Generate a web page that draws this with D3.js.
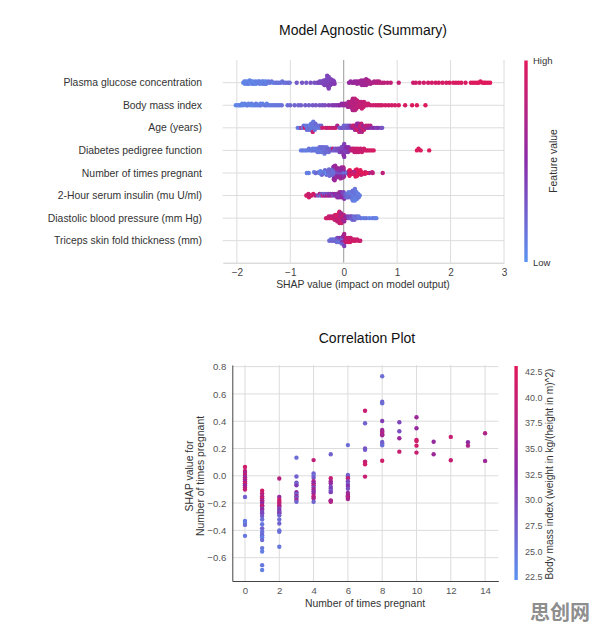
<!DOCTYPE html>
<html>
<head>
<meta charset="utf-8">
<script src="https://cdn.jsdelivr.net/npm/d3@7"></script>
<style>
body { margin: 0; background: #fff; }
svg text { font-family: "Liberation Sans", Arial, sans-serif; }
</style>
</head>
<body>
<div id="chart"></div>
<script>
// Feature names, top to bottom in the summary plot
const features = [
  "Plasma glucose concentration",
  "Body mass index",
  "Age (years)",
  "Diabetes pedigree function",
  "Number of times pregnant",
  "2-Hour serum insulin (mu U/ml)",
  "Diastolic blood pressure (mm Hg)",
  "Triceps skin fold thickness (mm)"
];

// [shap value, feature value 0..1]
const glucose = [
  [-1.88,.05],[-1.86,.08],[-1.85,.04],[-1.84,.10],[-1.83,.06],[-1.81,.03],[-1.80,.09],[-1.79,.05],[-1.78,.12],[-1.76,.07],
  [-1.75,.04],[-1.73,.10],[-1.72,.06],[-1.71,.08],[-1.70,.05],[-1.68,.11],[-1.66,.07],[-1.65,.09],[-1.64,.04],[-1.62,.12],
  [-1.60,.08],[-1.59,.06],[-1.58,.10],[-1.57,.13],[-1.55,.07],[-1.53,.09],[-1.52,.05],[-1.51,.12],[-1.50,.08],[-1.48,.10],
  [-1.47,.14],[-1.46,.06],[-1.45,.11],[-1.43,.09],[-1.41,.13],[-1.38,.12],[-1.35,.15],[-1.32,.11],[-1.28,.14],[-1.25,.16],
  [-1.22,.13],[-1.18,.17],[-1.15,.15],[-1.12,.18],[-1.08,.16],[-1.04,.20],[-1.01,.18],
  [-0.88,.27],[-0.78,.30],[-0.70,.28],[-0.62,.32],[-0.55,.30],[-0.50,.34],
  [-0.47,.36],[-0.45,.34],[-0.43,.38],[-0.42,.35],[-0.40,.37],[-0.39,.33],[-0.38,.39],[-0.37,.36],[-0.36,.40],[-0.35,.35],
  [-0.34,.38],[-0.33,.36],[-0.33,.41],[-0.32,.37],[-0.32,.34],[-0.31,.39],[-0.31,.36],[-0.30,.40],[-0.30,.35],[-0.30,.38],
  [-0.29,.37],[-0.29,.42],[-0.29,.36],[-0.28,.39],[-0.28,.35],[-0.28,.40],[-0.27,.37],[-0.27,.41],[-0.26,.38],[-0.26,.36],
  [-0.25,.40],[-0.24,.38],[-0.23,.42],[-0.22,.39],[-0.21,.41],[-0.20,.40],[-0.19,.43],[-0.18,.41],[-0.17,.44],[-0.31,.38],
  [0.10,.55],[0.13,.57],[0.16,.56],[0.18,.58],[0.20,.57],[0.22,.60],[0.24,.58],[0.25,.61],[0.27,.59],[0.28,.62],
  [0.30,.60],[0.31,.63],[0.32,.61],[0.33,.64],[0.34,.60],[0.35,.62],[0.36,.65],[0.37,.61],[0.38,.63],[0.38,.66],
  [0.39,.62],[0.40,.64],[0.40,.60],[0.41,.67],[0.42,.63],[0.42,.65],[0.43,.68],[0.44,.64],[0.45,.66],[0.46,.69],
  [0.47,.65],[0.48,.70],[0.50,.67],[0.52,.71],
  [0.55,.72],[0.57,.70],[0.60,.74],[0.62,.73],[0.64,.76],[0.66,.74],[0.68,.77],[0.72,.78],[0.76,.80],[0.82,.79],
  [0.88,.82],[1.03,.84],
  [1.30,.88],[1.35,.90],[1.42,.89],[1.50,.91],[1.58,.90],[1.65,.92],[1.72,.93],[1.78,.92],[1.85,.94],[1.92,.93],
  [1.98,.95],[2.05,.94],[2.10,.96],[2.15,.95],[2.20,.97],[2.28,.96],[2.38,.97],[2.42,.98],[2.46,.97],[2.50,.99],
  [2.53,.98],[2.56,.99],[2.60,.98],[2.63,1],[2.66,.99],[2.70,1],[2.74,.99]
];

const bmi = [
  [-2.02,.05],[-1.98,.08],[-1.95,.06],[-1.92,.10],[-1.90,.07],[-1.88,.05],[-1.85,.09],[-1.82,.06],[-1.80,.11],[-1.78,.08],
  [-1.74,.07],[-1.72,.10],[-1.70,.06],[-1.66,.09],[-1.64,.12],[-1.62,.08],[-1.58,.10],[-1.56,.07],[-1.55,.12],[-1.52,.09],
  [-1.48,.11],[-1.45,.13],[-1.44,.08],[-1.40,.12],[-1.36,.10],[-1.32,.14],[-1.28,.12],[-1.24,.15],[-1.20,.13],[-1.16,.16],
  [-1.05,.18],[-1.00,.20],[-0.92,.22],[-0.85,.21],[-0.80,.24],[-0.72,.26],[-0.65,.25],[-0.58,.28],[-0.52,.30],[-0.45,.29],
  [-0.40,.32],[-0.35,.34],[-0.28,.40],[-0.22,.42],[-0.18,.45],[-0.14,.44],[-0.10,.48],[-0.07,.50],[-0.04,.52],[-0.02,.55],
  [0.00,.55],[0.02,.60],[0.04,.62],[0.06,.64],[0.07,.66],[0.08,.63],[0.09,.68],[0.10,.65],[0.11,.70],[0.12,.67],
  [0.13,.72],[0.14,.69],[0.14,.74],[0.15,.71],[0.15,.76],[0.16,.73],[0.16,.78],[0.17,.70],[0.17,.75],[0.18,.72],
  [0.18,.80],[0.19,.74],[0.19,.77],[0.20,.79],[0.20,.73],[0.21,.76],[0.21,.81],[0.22,.75],[0.22,.78],[0.23,.80],
  [0.23,.74],[0.24,.77],[0.25,.82],[0.26,.76],[0.27,.79],[0.28,.83],[0.29,.78],[0.30,.81],[0.31,.84],[0.32,.80],
  [0.33,.82],[0.34,.85],[0.35,.81],[0.36,.83],[0.37,.86],[0.38,.82],[0.40,.84],[0.42,.87],[0.44,.85],[0.46,.88],
  [0.50,.86],[0.55,.89],[0.60,.88],[0.64,.90],[0.68,.89],[0.72,.91],[0.78,.92],[0.84,.90],[0.90,.93],[0.96,.92],
  [1.03,.94],[1.15,.95],[1.28,.96],[1.37,.97],[1.53,.98]
];

const age = [
  [-0.86,.12],[-0.82,.15],[-0.79,.85],[-0.77,.10],[-0.75,.18],[-0.73,.88],[-0.71,.14],[-0.69,.20],[-0.67,.11],[-0.66,.16],
  [-0.65,.13],[-0.64,.19],[-0.63,.10],[-0.62,.15],[-0.61,.12],[-0.60,.17],[-0.60,.14],[-0.59,.11],[-0.58,.16],[-0.58,.86],
  [-0.57,.13],[-0.56,.18],[-0.55,.12],[-0.54,.15],[-0.53,.20],[-0.52,.14],[-0.50,.17],[-0.48,.13],[-0.46,.19],[-0.44,.16],
  [-0.42,.22],[-0.40,.90],[-0.34,.88],[-0.30,.80],[-0.26,.92],[-0.22,.84],[-0.18,.78],[-0.15,.90],[-0.12,.70],
  [-0.08,.25],[-0.05,.22],[-0.03,.28],[0.00,.20],[0.02,.26],[0.04,.23],[0.06,.30],[0.08,.25],[0.10,.32],[0.12,.40],
  [0.15,.55],[0.17,.85],[0.19,.60],[0.20,.90],[0.21,.50],[0.22,.82],[0.23,.65],[0.24,.92],[0.25,.58],[0.26,.87],
  [0.27,.62],[0.28,.94],[0.28,.55],[0.29,.80],[0.30,.68],[0.31,.90],[0.32,.60],[0.33,.85],[0.34,.72],[0.35,.88],
  [0.36,.64],[0.38,.90],[0.40,.70],[0.42,.85],[0.44,.62],[0.46,.80],[0.48,.55],[0.50,.75],[0.53,.45],[0.57,.50],
  [0.61,.40],[0.65,.45],[0.70,.35],[0.72,.30]
];

const pedigree = [
  [-0.80,.10],[-0.76,.14],[-0.72,.08],[-0.68,.12],[-0.65,.15],[-0.62,.09],[-0.60,.13],[-0.58,.11],[-0.56,.16],[-0.54,.10],
  [-0.52,.14],[-0.50,.12],[-0.49,.17],[-0.48,.11],[-0.47,.15],[-0.46,.13],[-0.45,.18],[-0.44,.12],[-0.43,.16],[-0.42,.14],
  [-0.41,.19],[-0.40,.13],[-0.39,.17],[-0.38,.15],[-0.37,.20],[-0.36,.14],[-0.35,.18],[-0.34,.16],[-0.33,.21],[-0.32,.17],
  [-0.31,.19],[-0.30,.22],[-0.28,.18],[-0.26,.23],[-0.24,.20],[-0.22,.25],[-0.20,.82],[-0.18,.24],[-0.16,.28],
  [-0.14,.30],[-0.12,.33],[-0.10,.28],[-0.09,.36],[-0.08,.31],[-0.07,.38],[-0.06,.34],[-0.05,.40],[-0.04,.32],[-0.03,.42],
  [-0.02,.36],[-0.02,.45],[-0.01,.38],[0.00,.43],[0.00,.35],[0.00,.48],[0.01,.40],[0.01,.46],[0.02,.37],[0.03,.44],
  [0.04,.39],[0.05,.50],[0.06,.41],[0.07,.47],[0.08,.43],[0.09,.52],[0.10,.45],[0.12,.55],
  [0.14,.80],[0.16,.85],[0.18,.78],[0.19,.88],[0.20,.82],[0.22,.90],[0.23,.84],[0.24,.87],[0.26,.80],[0.27,.92],
  [0.28,.85],[0.30,.88],[0.32,.83],[0.34,.90],[0.36,.86],[0.38,.92],[0.41,.88],[0.44,.94],[0.48,.90],[0.52,.93],
  [0.56,.95],[1.37,.97],[1.40,.98],[1.44,.96],[1.60,.99]
];

const insulin = [
  [-0.70,.90],[-0.68,.95],[-0.66,.88],[-0.65,.92],[-0.63,.85],[-0.60,.90],[-0.57,.93],[-0.53,.80],
  [-0.48,.25],[-0.45,.70],[-0.43,.20],[-0.41,.30],[-0.39,.85],[-0.37,.22],[-0.35,.60],[-0.33,.28],[-0.31,.75],[-0.29,.35],
  [-0.27,.55],[-0.25,.40],[-0.23,.65],[-0.21,.45],[-0.19,.30],[-0.17,.58],
  [-0.15,.50],[-0.13,.45],[-0.12,.60],[-0.11,.40],[-0.10,.55],[-0.09,.48],[-0.08,.62],[-0.07,.42],[-0.06,.52],[-0.05,.58],
  [-0.04,.45],[-0.03,.50],[-0.02,.40],[-0.01,.55],[0.00,.35],[0.01,.48],[0.02,.30],
  [0.04,.22],[0.05,.18],[0.06,.25],[0.07,.15],[0.08,.20],[0.09,.12],[0.10,.18],[0.11,.14],[0.12,.22],[0.13,.10],
  [0.14,.16],[0.15,.12],[0.15,.20],[0.16,.14],[0.16,.10],[0.17,.18],[0.17,.12],[0.18,.15],[0.18,.09],[0.19,.13],
  [0.19,.17],[0.20,.11],[0.20,.15],[0.21,.08],[0.21,.14],[0.22,.12],[0.22,.16],[0.23,.10],[0.24,.13],[0.25,.09],
  [0.26,.12],[0.27,.10],[0.28,.14],[0.30,.11]
];

const bloodPressure = [
  [-0.33,.88],[-0.30,.92],[-0.28,.85],[-0.26,.90],[-0.24,.80],[-0.22,.94],[-0.20,.86],[-0.19,.91],[-0.18,.78],[-0.17,.88],
  [-0.16,.93],[-0.15,.84],[-0.14,.90],[-0.13,.82],[-0.12,.95],[-0.12,.87],[-0.11,.79],[-0.11,.92],[-0.10,.85],[-0.10,.89],
  [-0.09,.76],[-0.09,.94],[-0.08,.83],[-0.08,.90],[-0.07,.87],[-0.07,.72],[-0.06,.91],[-0.06,.80],[-0.05,.86],[-0.05,.68],
  [-0.04,.89],[-0.03,.75],[-0.02,.84],[-0.01,.65],[0.00,.78],[0.01,.60],[0.02,.70],[0.04,.55],[0.06,.62],
  [0.08,.40],[0.10,.30],[0.12,.35],[0.14,.25],[0.15,.32],[0.16,.20],[0.18,.28],[0.19,.18],[0.20,.24],[0.22,.15],
  [0.24,.22],[0.26,.18],[0.28,.12],[0.32,.16],[0.37,.10],[0.42,.14],[0.48,.08],[0.54,.12],[0.58,.10],[0.61,.08]
];

const triceps = [
  [-0.27,.20],[-0.24,.15],[-0.22,.25],[-0.20,.18],[-0.18,.22],[-0.16,.12],[-0.15,.30],[-0.14,.16],[-0.13,.20],[-0.12,.35],
  [-0.11,.14],[-0.10,.24],[-0.09,.18],[-0.08,.40],[-0.07,.15],[-0.06,.28],[-0.05,.20],[-0.05,.45],[-0.04,.16],[-0.03,.35],
  [-0.03,.22],[-0.02,.50],[-0.02,.18],[-0.01,.30],[-0.01,.60],[0.00,.25],[0.00,.55],[0.01,.40],[0.01,.70],[0.02,.80],
  [0.03,.65],[0.04,.85],[0.05,.90],[0.06,.78],[0.07,.88],[0.08,.92],[0.09,.82],[0.10,.90],[0.11,.86],[0.12,.94],
  [0.13,.88],[0.14,.91],[0.16,.85],[0.18,.93],[0.20,.89],[0.22,.92],[0.25,.87],[0.28,.90],[0.31,.88]
];

// Correlation plot: [times pregnant, shap value, body mass index]
const pregPoints = [
  [0,0.065,41],[0,0.035,39],[0,0.02,36],[0,0.005,40],[0,-0.01,34],[0,-0.025,38],[0,-0.04,35],[0,-0.055,41],
  [0,-0.07,33],[0,-0.085,37],[0,-0.10,39],[0,-0.155,27],[0,-0.33,25],[0,-0.345,24],[0,-0.36,26],[0,-0.44,25],
  [1,-0.11,41],[1,-0.13,39],[1,-0.15,37],[1,-0.165,40],[1,-0.18,35],[1,-0.19,38],[1,-0.20,33],[1,-0.215,36],
  [1,-0.225,40],[1,-0.24,31],[1,-0.25,34],[1,-0.265,29],[1,-0.275,30],[1,-0.295,28],[1,-0.32,26],[1,-0.355,25],
  [1,-0.385,27],[1,-0.41,26],[1,-0.42,25],[1,-0.435,27],[1,-0.45,24],[1,-0.47,26],[1,-0.53,25],[1,-0.555,24],
  [1,-0.655,25],[1,-0.69,24],
  [2,-0.02,38],[2,-0.155,34],[2,-0.175,41],[2,-0.19,39],[2,-0.20,40],[2,-0.215,37],[2,-0.225,38],[2,-0.24,30],
  [2,-0.255,33],[2,-0.265,28],[2,-0.275,31],[2,-0.29,27],[2,-0.32,26],[2,-0.35,27],[2,-0.40,25],[2,-0.41,26],[2,-0.52,25],
  [3,0.133,26],[3,-0.005,27],[3,-0.05,29],[3,-0.06,26],[3,-0.07,31],[3,-0.12,33],[3,-0.135,27],[3,-0.15,35],
  [3,-0.16,28],[3,-0.175,36],[3,-0.19,27],
  [4,0.115,39],[4,0.018,27],[4,0.0,26],[4,-0.015,28],[4,-0.04,37],[4,-0.055,33],[4,-0.07,38],[4,-0.085,30],
  [4,-0.10,36],[4,-0.115,32],[4,-0.13,34],[4,-0.15,39],[4,-0.165,37],[4,-0.19,27],
  [5,0.158,27],[5,-0.018,40],[5,-0.04,36],[5,-0.055,34],[5,-0.08,29],[5,-0.095,31],[5,-0.11,27],[5,-0.12,30],
  [5,-0.18,38],[5,-0.19,40],[5,-0.185,36],
  [6,0.225,26],[6,0.006,27],[6,-0.006,28],[6,-0.018,39],[6,-0.04,30],[6,-0.06,28],[6,-0.075,32],[6,-0.095,29],
  [6,-0.125,34],[6,-0.14,37],[6,-0.15,35],[6,-0.16,39],[6,-0.17,36],
  [7,0.477,40],[7,0.385,27],[7,0.20,29],[7,0.19,28],[7,0.104,40],[7,0.095,39],[7,0.085,41],[7,-0.006,40],
  [8,0.73,26],[8,0.543,27],[8,0.532,26],[8,0.402,31],[8,0.336,34],[8,0.325,38],[8,0.315,35],[8,0.305,39],
  [8,0.297,36],[8,0.248,27],[8,0.236,28],[8,0.224,26],[8,0.11,41],
  [9,0.392,30],[9,0.326,29],[9,0.275,35],[9,0.177,40],
  [10,0.429,35],[10,0.348,34],[10,0.263,40],[10,0.255,41],[10,0.221,41],[10,0.17,40],
  [11,0.25,34],[11,0.158,35],
  [12,0.285,40],[12,0.114,40],
  [13,0.246,33],[13,0.221,37],
  [14,0.312,37],[14,0.109,35]
];

const shapTicks = [-2, -1, 0, 1, 2, 3];
const pregTicks = [0, 2, 4, 6, 8, 10, 12, 14];
const corrTicks = [-0.6, -0.4, -0.2, 0.0, 0.2, 0.4, 0.6, 0.8];
const bmiTicks = [22.5, 25.0, 27.5, 30.0, 32.5, 35.0, 37.5, 40.0, 42.5];

// pregnancy row of the summary uses the same points as the correlation plot
const pregnant = pregPoints.map(d => [d[1], Math.min(d[0] / 10, 1)]);
const rowData = [glucose, bmi, age, pedigree, pregnant, insulin, bloodPressure, triceps];

const svg = d3.select("#chart").append("svg")
    .attr("width", 596)
    .attr("height", 632);

const ramp = d3.scaleLinear()
    .domain([0, 0.5, 1])
    .range(["#5b93f0", "#8a2ba8", "#e0195a"])
    .clamp(true);

// gradient for the two colour bars
const defs = svg.append("defs");
const grad = defs.append("linearGradient")
    .attr("id", "ramp")
    .attr("x1", 0).attr("y1", 1).attr("x2", 0).attr("y2", 0);
d3.range(0, 1.01, 0.1).forEach(t => {
    grad.append("stop").attr("offset", t).attr("stop-color", ramp(t));
});

// ---------- Summary (beeswarm) ----------
const x1 = d3.scaleLinear().domain([-2.265, 3]).range([222.7, 504]);
const y1 = d3.scalePoint().domain(features).range([82.7, 240.7]);
const rowH = 22.57;

svg.append("text")
    .attr("x", 363).attr("y", 35)
    .attr("text-anchor", "middle")
    .style("font-size", "14px")
    .style("fill", "#111")
    .text("Model Agnostic (Summary)");

// grid
svg.append("g").selectAll("line")
    .data(shapTicks)
    .enter().append("line")
    .attr("x1", d => x1(d)).attr("x2", d => x1(d))
    .attr("y1", 60).attr("y2", 262.7)
    .style("stroke", d => d === 0 ? "#9a9a9a" : "#dcdcdc")
    .style("stroke-width", 1);

svg.append("g").selectAll("line")
    .data(features)
    .enter().append("line")
    .attr("x1", 222.7).attr("x2", 504)
    .attr("y1", d => y1(d)).attr("y2", d => y1(d))
    .style("stroke", "#dcdcdc");

// x axis
const xAxis1 = svg.append("g")
    .attr("transform", "translate(0,262.7)")
    .call(d3.axisBottom(x1).tickValues(shapTicks).tickSize(0).tickPadding(6).tickFormat(d3.format("d")));
xAxis1.select(".domain").style("stroke", "#cccccc");
xAxis1.selectAll("text")
    .style("font-family", "'Liberation Sans', Arial, sans-serif")
    .style("font-size", "10px")
    .style("fill", "#444");

svg.append("text")
    .attr("x", 363).attr("y", 288)
    .attr("text-anchor", "middle")
    .style("font-size", "10.4px")
    .style("fill", "#333")
    .text("SHAP value (impact on model output)");

// feature labels
svg.append("g").selectAll("text")
    .data(features)
    .enter().append("text")
    .attr("x", 202)
    .attr("y", d => y1(d))
    .attr("dy", "0.35em")
    .attr("text-anchor", "end")
    .style("font-size", "10.4px")
    .style("fill", "#333")
    .text(d => d);

// beeswarm layout similar to shap: bin by x, stack alternately up/down
function swarm(rows) {
    const binW = 2.2;
    const bins = d3.group(rows, d => Math.round(x1(d[0]) / binW));
    const out = [];
    for (const [, pts] of bins) {
        pts.forEach((p, i) => {
            out.push({ v: p[0], f: p[1], off: Math.ceil(i / 2) * ((i % 2) * 2 - 1) });
        });
    }
    const maxOff = d3.max(out, d => d.off) + 1;
    const k = 0.9 * (0.4 * rowH) / maxOff;
    out.forEach(d => { d.dy = d.off * k; });
    return out;
}

rowData.forEach((rows, i) => {
    const pts = swarm(rows);
    const cy = y1(features[i]);
    svg.append("g").selectAll("circle")
        .data(pts)
        .enter().append("circle")
        .attr("cx", d => x1(d.v))
        .attr("cy", d => cy - d.dy)
        .attr("r", 2.2)
        .style("fill", d => ramp(d.f));
});

// colour bar
svg.append("rect")
    .attr("x", 524.3).attr("y", 60.5)
    .attr("width", 3.4).attr("height", 201.5)
    .style("fill", "url(#ramp)");
svg.append("text")
    .attr("x", 533).attr("y", 61).attr("dy", "0.35em")
    .style("font-size", "9.5px").style("fill", "#333")
    .text("High");
svg.append("text")
    .attr("x", 533).attr("y", 263).attr("dy", "0.35em")
    .style("font-size", "9.5px").style("fill", "#333")
    .text("Low");
svg.append("text")
    .attr("transform", "translate(553,161) rotate(-90)")
    .attr("dy", "0.35em")
    .attr("text-anchor", "middle")
    .style("font-size", "10.4px").style("fill", "#333")
    .text("Feature value");

// ---------- Correlation plot ----------
const x2 = d3.scaleLinear().domain([-0.74, 14.77]).range([232.3, 498.3]);
const y2 = d3.scaleLinear().domain([-0.771, 0.812]).range([581, 365]);
const bmiScale = d3.scaleLinear().domain([22.24, 43.05]).range([0, 1]);

svg.append("text")
    .attr("x", 367).attr("y", 343)
    .attr("text-anchor", "middle")
    .style("font-size", "14px")
    .style("fill", "#111")
    .text("Correlation Plot");

svg.append("g").selectAll("line")
    .data(pregTicks)
    .enter().append("line")
    .attr("x1", d => x2(d)).attr("x2", d => x2(d))
    .attr("y1", 365).attr("y2", 581)
    .style("stroke", "#dcdcdc");

svg.append("g").selectAll("line")
    .data(corrTicks)
    .enter().append("line")
    .attr("x1", 232.3).attr("x2", 498.3)
    .attr("y1", d => y2(d)).attr("y2", d => y2(d))
    .style("stroke", "#dcdcdc");

const xAxis2 = svg.append("g")
    .attr("transform", "translate(0,581)")
    .call(d3.axisBottom(x2).tickValues(pregTicks).tickSize(0).tickPadding(6));
xAxis2.select(".domain").style("stroke", "#444");

const yAxis2 = svg.append("g")
    .attr("transform", "translate(232.3,0)")
    .call(d3.axisLeft(y2).tickValues(corrTicks).tickSize(0).tickPadding(6).tickFormat(d3.format(".1f")));
yAxis2.select(".domain").style("stroke", "#444");

[xAxis2, yAxis2].forEach(a => a.selectAll("text")
    .style("font-family", "'Liberation Sans', Arial, sans-serif")
    .style("font-size", "9.6px")
    .style("fill", "#555"));

svg.append("g").selectAll("circle")
    .data(pregPoints)
    .enter().append("circle")
    .attr("cx", d => x2(d[0]))
    .attr("cy", d => y2(d[1]))
    .attr("r", 2.2)
    .style("fill", d => ramp(bmiScale(d[2])));

svg.append("text")
    .attr("x", 365).attr("y", 607)
    .attr("text-anchor", "middle")
    .style("font-size", "10.4px")
    .style("fill", "#333")
    .text("Number of times pregnant");

const yLab = svg.append("text")
    .attr("transform", "translate(195,476) rotate(-90)")
    .attr("text-anchor", "middle")
    .style("font-size", "10.4px")
    .style("fill", "#333");
yLab.append("tspan").attr("x", 0).attr("dy", "-0.2em").text("SHAP value for");
yLab.append("tspan").attr("x", 0).attr("dy", "1.1em").text("Number of times pregnant");

// BMI colour bar
const cb = d3.scaleLinear().domain([22.24, 43.05]).range([580, 366]);
svg.append("rect")
    .attr("x", 514.4).attr("y", 366)
    .attr("width", 3.4).attr("height", 214)
    .style("fill", "url(#ramp)");
svg.append("g").selectAll("text")
    .data(bmiTicks)
    .enter().append("text")
    .attr("x", 525)
    .attr("y", d => cb(d))
    .attr("dy", "0.35em")
    .style("font-size", "9px")
    .style("fill", "#555")
    .text(d => d3.format(".1f")(d));
svg.append("text")
    .attr("transform", "translate(549.5,474) rotate(-90)")
    .attr("dy", "0.35em")
    .attr("text-anchor", "middle")
    .style("font-size", "10.2px")
    .style("fill", "#333")
    .text("Body mass index (weight in kg/(height in m)^2)");

// watermark
svg.append("text")
    .attr("x", 530).attr("y", 620)
    .style("font-family", "'Noto Sans CJK SC', sans-serif")
    .style("font-size", "20px")
    .style("font-weight", "bold")
    .style("fill", "#8e8e8e")
    .text("思创网");
</script>
</body>
</html>
